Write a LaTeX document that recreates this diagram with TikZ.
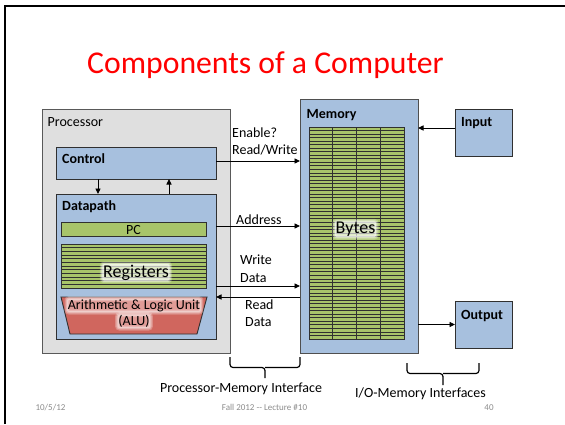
\documentclass[tikz,border=0pt]{standalone}
\usepackage{fontspec}
\setmainfont{Carlito}
\usetikzlibrary{arrows.meta}
\definecolor{procgray}{HTML}{DFDFDF}
\definecolor{boxblue}{HTML}{A7C0DE}
\definecolor{bytegreen}{HTML}{A8C46A}
\definecolor{alured}{HTML}{D0665E}
\definecolor{footgray}{HTML}{8C8C8C}
\definecolor{edge}{HTML}{303030}
\definecolor{titlered}{HTML}{FF0000}
\begin{document}
\begin{tikzpicture}[x=1pt,y=-1pt,
  box/.style={draw=edge, line width=0.9pt, outer sep=0pt, inner sep=0pt, anchor=north west},
  bluebox/.style={box, fill=boxblue},
  lbl/.style={font=\fontsize{14}{16}\selectfont, inner sep=0pt, anchor=base west},
  blbl/.style={font=\fontsize{14}{16}\selectfont\bfseries, inner sep=0pt, anchor=base west},
  conn/.style={line width=0.9pt, -{Triangle[length=5.5pt,width=5pt]}},
  bracepath/.style={line width=1.2pt, rounded corners=3pt},
  glow/.style={anchor=base, inner xsep=0.8pt, inner ysep=0.6pt, rounded corners=2pt,
    fill=white, fill opacity=0.6, text opacity=1,
    preaction={draw=white, draw opacity=0.25, line width=5pt},
    preaction={draw=white, draw opacity=0.35, line width=2.5pt}},
  foot/.style={font=\fontsize{9}{10}\selectfont, text=footgray, inner sep=0pt, anchor=base}]
\useasboundingbox (0,0) rectangle (565,424);
\fill[white] (0,0) rectangle (565,424);
\draw[line width=2pt] (5,424) -- (5,6) -- (565,6);

% title
\node[font=\fontsize{31.7}{36}\selectfont, text=titlered, inner sep=0pt, anchor=base] (title) at (265.5,73) {Components of a Computer};

% processor
\node[box, fill=procgray, draw=edge!80, minimum width=188pt, minimum height=244pt] (proc) at (42,109) {};
\node[lbl] (proclbl) at (47.5,126) {Processor};
\node[bluebox, minimum width=160pt, minimum height=32pt] (ctrl) at (56,147) {};
\node[blbl] (ctrllbl) at (62,163) {Control};
\node[bluebox, minimum width=160pt, minimum height=145pt] (dp) at (56,194) {};
\node[blbl] (dplbl) at (62,210) {Datapath};
\node[box, fill=bytegreen, minimum width=145pt, minimum height=14pt] (pc) at (61,222) {};
\node[font=\fontsize{14}{16}\selectfont, inner sep=0pt, anchor=base] (pclbl) at (133.5,234) {PC};

% registers
\node[box, fill=bytegreen, minimum width=145pt, minimum height=44pt] (regs) at (61,244) {};
\foreach \i in {1,...,11} {\draw[edge, line width=0.8pt] (61,244+\i*3.667) -- (206,244+\i*3.667);}
\node[glow, font=\fontsize{18}{20}\selectfont] (regslbl) at (136,277) {Registers};

% ALU
\draw[edge, line width=0.9pt, fill=alured] (61,297) -- (207,297) -- (197,334) -- (70,334) -- cycle;
\node[glow, font=\fontsize{14}{16}\selectfont, fill opacity=0.35] (alulbl1) at (134,309) {Arithmetic \& Logic Unit};
\node[glow, font=\fontsize{14}{16}\selectfont, fill opacity=0.35] (alulbl2) at (134,325.5) {(ALU)};

% memory
\node[bluebox, draw=edge!85, minimum width=118pt, minimum height=254pt] (mem) at (300,99) {};
\node[blbl] (memlbl) at (306.5,118) {Memory};
\node[box, fill=bytegreen, minimum width=95pt, minimum height=212pt] (bytes) at (309,127) {};
\foreach \i in {1,...,59} {\draw[edge, line width=0.75pt] (309,127+\i*3.5333) -- (404,127+\i*3.5333);}
\foreach \j in {1,2,3} {\draw[edge, line width=0.9pt] (309+\j*23.75,127) -- (309+\j*23.75,339);}
\draw[edge, line width=0.9pt] (309,127) rectangle (404,339);
\node[glow, font=\fontsize{18}{20}\selectfont] (byteslbl) at (355.5,233.5) {Bytes};

% input / output
\node[bluebox, minimum width=57pt, minimum height=47pt] (inp) at (455,109) {};
\node[blbl] (inplbl) at (461,126) {Input};
\node[bluebox, minimum width=57pt, minimum height=47pt] (outp) at (455,301) {};
\node[blbl] (outplbl) at (461,319) {Output};

% helper coordinates
\coordinate (yctl) at (0,161);
\coordinate (yaddr) at (0,226);
\coordinate (ywd) at (0,286);
\coordinate (yrd) at (0,297);
\coordinate (yin) at (0,128);
\coordinate (xdn) at (98,0);
\coordinate (xup) at (169,0);

% connectors
\draw[conn] (ctrl.south -| xdn) -- (dp.north -| xdn);
\draw[conn] (dp.north -| xup) -- (ctrl.south -| xup);
\draw[conn] (ctrl.east |- yctl) -- (mem.west |- yctl);
\draw[conn] (dp.east |- yaddr) -- (mem.west |- yaddr);
\draw[conn] (dp.east |- ywd) -- (mem.west |- ywd);
\draw[conn] (mem.west |- yrd) -- (dp.east |- yrd);
\draw[conn] (inp.west |- yin) -- (mem.east |- yin);
\draw[conn] (mem.east |- outp.west) -- (outp.west);

% connector labels
\node[lbl] (l1) at (232,137) {Enable?};
\node[lbl] (l2) at (232,154) {Read/Write};
\node[lbl] (l3) at (236,224.5) {Address};
\node[lbl] (l4) at (240,264) {Write};
\node[lbl] (l5) at (240,282) {Data};
\node[lbl] (l6) at (245,309) {Read};
\node[lbl] (l7) at (245,326) {Data};

% braces
\draw[bracepath] (230,357) |- (265,367.5) -- (265,378);
\draw[bracepath] (300,357) |- (265,367.5);
\node[font=\fontsize{14}{16}\selectfont, inner sep=0pt, anchor=base] (pmi) at (241,392) {Processor-Memory Interface};
\draw[bracepath] (407,363) |- (443,373.5) -- (443,385);
\draw[bracepath] (479,363) |- (443,373.5);
\node[font=\fontsize{14}{16}\selectfont, inner sep=0pt, anchor=base] (iomi) at (420.5,397) {I/O-Memory Interfaces};

% footer
\node[foot] (fdate) at (50.5,410) {10/5/12};
\node[foot] (fmid) at (264.5,410) {Fall 2012 -{}- Lecture \#10};
\node[foot] (fnum) at (489,410) {40};
\end{tikzpicture}
\end{document}
